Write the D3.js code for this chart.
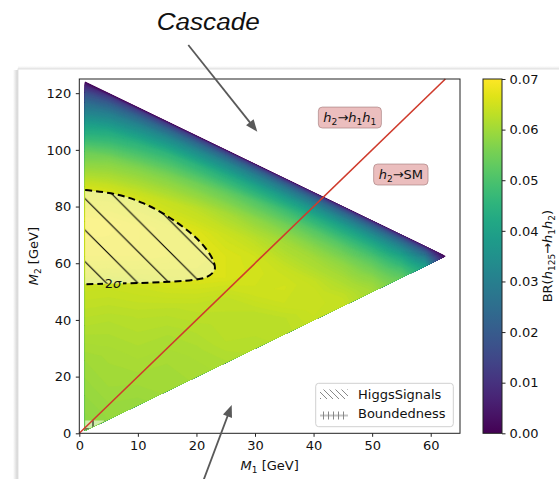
<!DOCTYPE html>
<html><head><meta charset="utf-8">
<script src="https://cdn.jsdelivr.net/npm/d3@7"></script>
<style>
html,body{margin:0;padding:0;background:#fff;}
svg{display:block;font-family:"DejaVu Sans",sans-serif;}
</style></head>
<body>
<svg id="chart" width="559" height="479"></svg>
<script>
// ---------------- data ----------------
// grid columns: M1 [GeV]; rows: fractional position s between lower edge (M2=M1) and kinematic edge (M1+M2=125)
const m1Samples = [1, 5, 10, 15, 20, 25, 30, 35, 40, 45, 50, 55, 59, 62.5];
const sSamples  = [0, 0.1, 0.2, 0.3, 0.4, 0.5, 0.6, 0.7, 0.8, 0.88, 0.94, 0.97, 0.99, 1];
const brRows = [
  [0.058, 0.059, 0.0592, 0.0602, 0.0606, 0.0614, 0.0623, 0.0627, 0.0638, 0.0638, 0.0606, 0.053, 0.0396, 0],
  [0.059, 0.060, 0.0604, 0.0605, 0.0612, 0.0625, 0.0626, 0.0629, 0.0644, 0.0634, 0.0595, 0.0511, 0.0376, 0],
  [0.060, 0.0607, 0.0615, 0.0614, 0.0622, 0.0628, 0.063, 0.0645, 0.0644, 0.062, 0.0577, 0.0492, 0.0355, 0],
  [0.062, 0.062, 0.0626, 0.0628, 0.0634, 0.0633, 0.0648, 0.0651, 0.0637, 0.0604, 0.0555, 0.0465, 0.0333, 0],
  [0.064, 0.064, 0.0646, 0.0655, 0.0659, 0.066, 0.0653, 0.0643, 0.0617, 0.0587, 0.053, 0.0439, 0.031, 0],
  [0.068, 0.068, 0.068, 0.0675, 0.0671, 0.066, 0.065, 0.0623, 0.060, 0.0558, 0.0499, 0.0409, 0.0283, 0],
  [0.069, 0.0688, 0.0681, 0.0671, 0.0663, 0.0646, 0.0626, 0.0601, 0.0565, 0.0521, 0.0459, 0.0369, 0.0254, 0],
  [0.065, 0.0654, 0.065, 0.064, 0.0628, 0.0608, 0.0582, 0.0553, 0.0516, 0.0468, 0.0409, 0.0326, 0.022, 0],
  [0.054, 0.056, 0.0563, 0.056, 0.0549, 0.0533, 0.0509, 0.048, 0.0442, 0.0399, 0.0343, 0.0271, 0.018, 0],
  [0.039, 0.0429, 0.0448, 0.0459, 0.045, 0.0433, 0.0411, 0.0384, 0.0353, 0.0316, 0.0272, 0.0214, 0.0139, 0],
  [0.025, 0.0293, 0.0317, 0.033, 0.0326, 0.032, 0.0303, 0.0283, 0.0257, 0.0229, 0.0196, 0.0152, 0.0099, 0],
  [0.016, 0.020, 0.0222, 0.0232, 0.0234, 0.0229, 0.0219, 0.0202, 0.0184, 0.0163, 0.0139, 0.0108, 0.007, 0],
  [0.007, 0.0117, 0.0129, 0.0133, 0.0137, 0.0134, 0.0128, 0.0118, 0.0108, 0.0095, 0.0081, 0.0063, 0.004, 0],
  [0, 0, 0, 0, 0, 0, 0, 0, 0, 0, 0, 0, 0, 0]
];
const xTicks = [0, 10, 20, 30, 40, 50, 60];
const yTicks = [0, 20, 40, 60, 80, 100, 120];
const cbTicks = [0, 0.01, 0.02, 0.03, 0.04, 0.05, 0.06, 0.07];
// HiggsSignals 2 sigma contour (M1, M2)
const sigma2Contour = [[1,85.8],[6.1,84.4],[10.9,81.2],[16,75.3],[20.6,67.6],[22.8,61.2],[23.1,57.6],[21.7,55.1],[19.4,54.1],[13.8,53.3],[8.1,52.9],[1,52.6]];
const sigma2LabelPos = [5.75, 53.0];
// Boundedness excluded patch (M1, M2)
const boundedRegion = [[1,1],[1,4.5],[4.4,4.5],[4.4,4.4]];
// threshold line M2 = 2 M1
const thresholdLine = [[0,0],[62.5,125]];
const regionLabels = [
  {parts:[["h",1],["2",2],["\u2192",0],["h",1],["1",2],["h",1],["1",2]], m1:46.2, m2:111.4},
  {parts:[["h",1],["2",2],["\u2192SM",0]], m1:54.9, m2:91.3}
];
const legendItems = ["HiggsSignals", "Boundedness"];

// ---------------- layout ----------------
const svg = d3.select("#chart");
const L = 79.3, R = 460, T = 79, B = 433.3;
const x = d3.scaleLinear().domain([0, 65]).range([L, R]);
const y = d3.scaleLinear().domain([0, 125]).range([B, T]);
const cb = d3.scaleLinear().domain([0, 0.07]).range([B, T]);
const color = v => d3.interpolateViridis(Math.max(0, Math.min(1, v / 0.07)));

const defs = svg.append("defs");

// screenshot frame with shadow
const sg = defs.append("linearGradient").attr("id","shL").attr("x1",0).attr("x2",1).attr("y1",0).attr("y2",0);
sg.append("stop").attr("offset",0).attr("stop-color","#fff");
sg.append("stop").attr("offset",1).attr("stop-color","#cfcfcf");
const sgT = defs.append("linearGradient").attr("id","shT").attr("x1",0).attr("x2",0).attr("y1",0).attr("y2",1);
sgT.append("stop").attr("offset",0).attr("stop-color","#fff");
sgT.append("stop").attr("offset",1).attr("stop-color","#e6e6e6");
svg.append("rect").attr("x",13).attr("y",70).attr("width",5).attr("height",420).attr("fill","url(#shL)");
svg.append("rect").attr("x",18).attr("y",66).attr("width",560).attr("height",3).attr("fill","url(#shT)");
svg.append("rect").attr("x",18).attr("y",69).attr("width",560).attr("height",420).attr("fill","#fff").attr("stroke","#e2e2e2").attr("stroke-width",1);

// ---------------- heat map via d3.contours ----------------
const n = m1Samples.length, m = sSamples.length;
const values = [];
for (let j = 0; j < m; j++) for (let i = 0; i < n; i++) values.push(brRows[j][i]);
const step = 0.0005;
const thresholds = d3.range(0, 0.07 + 1e-9, step);
const contours = d3.contours().size([n, m]).thresholds(thresholds)(values);
function interpArr(arr, f) {
  const i0 = Math.max(0, Math.min(arr.length - 2, Math.floor(f)));
  const t = f - i0;
  return arr[i0] + (arr[i0 + 1] - arr[i0]) * t;
}
function project(p) {
  const fi = Math.max(0, Math.min(n - 1, p[0] - 0.5));
  const fj = Math.max(0, Math.min(m - 1, p[1] - 0.5));
  const a = interpArr(m1Samples, fi);
  const s = interpArr(sSamples, fj);
  const b = a + s * (125 - 2 * a);
  return [x(a).toFixed(2), y(b).toFixed(2)];
}
const pathOf = g => g.coordinates.map(poly => poly.map(ring => "M" + ring.map(p => project(p).join(",")).join("L") + "Z").join("")).join("");
svg.append("g").selectAll("path").data(contours).join("path")
  .attr("d", pathOf)
  .attr("fill", d => color(d.value + step / 2))
  .attr("stroke", d => color(d.value + step / 2))
  .attr("stroke-width", 0.3);

// ---------------- HiggsSignals region ----------------
const hp = defs.append("pattern").attr("id","hatchHS").attr("patternUnits","userSpaceOnUse")
  .attr("width",31.5).attr("height",31.5).attr("x",12.4).attr("y",0);
hp.append("path").attr("d","M-2,-2L33.5,33.5M-2,29.5L2,33.5M29.5,-2L33.5,2").attr("stroke","#000").attr("stroke-width",1.1);
const lineCurve = d3.line().x(d => x(d[0])).y(d => y(d[1])).curve(d3.curveCatmullRom.alpha(0.5));
const sigPath = lineCurve(sigma2Contour);
svg.append("path").attr("d", sigPath + "Z").attr("fill","#fff").attr("fill-opacity",0.5);
svg.append("path").attr("d", sigPath + "Z").attr("fill","url(#hatchHS)");

// Boundedness patch
const bp = defs.append("pattern").attr("id","hatchB").attr("patternUnits","userSpaceOnUse")
  .attr("width",12).attr("height",12).attr("x",3).attr("y",3);
bp.append("path").attr("d","M0,6H12M6,0V12").attr("stroke","#000").attr("stroke-width",1);
const bLine = d3.line().x(d => x(d[0])).y(d => y(d[1]));
svg.append("path").attr("d", bLine(boundedRegion) + "Z").attr("fill","#fff").attr("fill-opacity",0.55);
svg.append("path").attr("d", bLine(boundedRegion) + "Z").attr("fill","url(#hatchB)");

// 2 sigma dashed contour with inline label
const mask = defs.append("mask").attr("id","lblMask").attr("maskUnits","userSpaceOnUse")
  .attr("x",0).attr("y",0).attr("width",559).attr("height",479);
mask.append("rect").attr("x",0).attr("y",0).attr("width",559).attr("height",479).attr("fill","#fff");
const lx = x(sigma2LabelPos[0]), ly = y(sigma2LabelPos[1]);
mask.append("rect").attr("x",lx - 10).attr("y",ly - 8).attr("width",20).attr("height",16).attr("fill","#000");
svg.append("path").attr("d", sigPath).attr("fill","none").attr("stroke","#000")
  .attr("stroke-width",2).attr("stroke-dasharray","7,4").attr("mask","url(#lblMask)");
const st = svg.append("text").attr("x",lx).attr("y",ly + 4.5).attr("text-anchor","middle")
  .attr("font-size",13).attr("fill","#111");
st.append("tspan").text("2");
st.append("tspan").attr("font-style","italic").text("\u03C3");

// ---------------- threshold line ----------------
svg.append("path").attr("d", bLine(thresholdLine)).attr("stroke","#cf3b2c").attr("stroke-width",1.6).attr("fill","none");

// ---------------- region labels ----------------
function mathText(g, parts, size) {
  const t = g.append("text").attr("font-size", size).attr("fill","#111").attr("text-anchor","middle");
  let shifted = false;
  parts.forEach(([s, kind]) => {
    const ts = t.append("tspan").text(s);
    if (kind === 1) ts.attr("font-style","italic");
    if (kind === 2) { ts.attr("font-size", size * 0.7).attr("dy", 3); shifted = true; }
    else if (shifted) { ts.attr("dy", -3); shifted = false; }
  });
  return t;
}
regionLabels.forEach(lb => {
  const g = svg.append("g").attr("transform", `translate(${x(lb.m1)},${y(lb.m2)})`);
  const t = mathText(g, lb.parts, 13).attr("y", 4.5);
  const bb = t.node().getBBox();
  g.insert("rect","text").attr("x", bb.x - 5).attr("y", -10.5).attr("width", bb.width + 10).attr("height", 21)
    .attr("rx",4).attr("fill","rgba(205,92,92,0.4)").attr("stroke","rgba(160,120,120,0.6)").attr("stroke-width",1);
});

// ---------------- legend ----------------
const lg = svg.append("g");
lg.append("rect").attr("x",315.7).attr("y",383.3).attr("width",137.6).attr("height",43.4).attr("rx",3)
  .attr("fill","#fff").attr("fill-opacity",0.85).attr("stroke","#d0d0d0");
const lp1 = defs.append("pattern").attr("id","lgHS").attr("patternUnits","userSpaceOnUse").attr("width",6).attr("height",6);
lp1.append("path").attr("d","M-1,-1L7,7M-1,5L1,7M5,-1L7,1").attr("stroke","#888").attr("stroke-width",1);
const lp2 = defs.append("pattern").attr("id","lgB").attr("patternUnits","userSpaceOnUse").attr("width",5).attr("height",8).attr("x",321).attr("y",411.5);
lp2.append("path").attr("d","M0,4H5M2.5,0V8").attr("stroke","#888").attr("stroke-width",1);
lg.append("rect").attr("x",320).attr("y",389.5).attr("width",28).attr("height",9.5).attr("fill","url(#lgHS)");
lg.append("rect").attr("x",320).attr("y",411.5).attr("width",28).attr("height",8).attr("fill","url(#lgB)");
legendItems.forEach((txt, i) => {
  lg.append("text").attr("x",358).attr("y",399 + i * 19.3).attr("font-size",13).attr("fill","#111").text(txt);
});

// ---------------- axes ----------------
svg.append("rect").attr("x",L).attr("y",T).attr("width",R-L).attr("height",B-T).attr("fill","none").attr("stroke","#222").attr("stroke-width",1);
const ax = svg.append("g").attr("transform",`translate(0,${B})`)
  .call(d3.axisBottom(x).tickValues(xTicks).tickSize(3.5).tickPadding(3.5).tickSizeOuter(0));
const ay = svg.append("g").attr("transform",`translate(${L},0)`)
  .call(d3.axisLeft(y).tickValues(yTicks).tickSize(3.5).tickPadding(4.5).tickSizeOuter(0));
[ax, ay].forEach(a => {
  a.select(".domain").remove();
  a.selectAll("text").attr("font-size",13).attr("font-family","DejaVu Sans").attr("fill","#111");
  a.selectAll("line").attr("stroke","#222");
});

// axis labels
const xl = svg.append("text").attr("x",(L+R)/2).attr("y",470).attr("text-anchor","middle").attr("font-size",13).attr("fill","#111");
xl.append("tspan").attr("font-style","italic").text("M");
xl.append("tspan").attr("font-size",9).attr("dy",3).text("1");
xl.append("tspan").attr("dy",-3).text(" [GeV]");
const yl = svg.append("text").attr("transform",`translate(37.5,${(T+B)/2}) rotate(-90)`).attr("text-anchor","middle").attr("font-size",13).attr("fill","#111");
yl.append("tspan").attr("font-style","italic").text("M");
yl.append("tspan").attr("font-size",9).attr("dy",3).text("2");
yl.append("tspan").attr("dy",-3).text(" [GeV]");

// ---------------- colorbar ----------------
const cg = defs.append("linearGradient").attr("id","cbGrad").attr("x1",0).attr("x2",0).attr("y1",1).attr("y2",0);
d3.range(0, 1.0001, 0.05).forEach(t => cg.append("stop").attr("offset",t).attr("stop-color",d3.interpolateViridis(t)));
svg.append("rect").attr("x",483).attr("y",T).attr("width",19).attr("height",B-T).attr("fill","url(#cbGrad)").attr("stroke","#222").attr("stroke-width",1);
const ac = svg.append("g").attr("transform","translate(502,0)")
  .call(d3.axisRight(cb).tickValues(cbTicks).tickFormat(d3.format(".2f")).tickSize(3.5).tickPadding(4).tickSizeOuter(0));
ac.select(".domain").remove();
ac.selectAll("text").attr("font-size",13).attr("font-family","DejaVu Sans").attr("fill","#111");
ac.selectAll("line").attr("stroke","#222");
const cl = svg.append("text").attr("transform",`translate(552,${(T+B)/2}) rotate(-90)`).attr("text-anchor","middle").attr("font-size",13).attr("fill","#111");
cl.append("tspan").text("BR(");
cl.append("tspan").attr("font-style","italic").text("h");
cl.append("tspan").attr("font-size",9).attr("dy",3).text("125");
cl.append("tspan").attr("dy",-3).text("\u2192");
cl.append("tspan").attr("font-style","italic").text("h");
cl.append("tspan").attr("font-size",9).attr("dy",3).text("1");
cl.append("tspan").attr("dy",-3).attr("font-style","italic").text("h");
cl.append("tspan").attr("font-size",9).attr("dy",3).text("2");
cl.append("tspan").attr("dy",-3).text(")");

// ---------------- annotation ----------------
svg.append("text").attr("x",156.7).attr("y",29.5).attr("font-family","'Liberation Sans',Arial,sans-serif")
  .attr("font-style","italic").attr("font-size",23).attr("textLength",103).attr("lengthAdjust","spacingAndGlyphs")
  .attr("fill","#111").text("Cascade");
function arrow(x0, y0, x1, y1) {
  const dx = x1 - x0, dy = y1 - y0, len = Math.hypot(dx, dy);
  const ux = dx / len, uy = dy / len, hl = 12, hw = 4.8;
  const bx = x1 - ux * hl, by = y1 - uy * hl;
  svg.append("line").attr("x1",x0).attr("y1",y0).attr("x2",bx + ux*2).attr("y2",by + uy*2).attr("stroke","#595959").attr("stroke-width",1.8);
  svg.append("path").attr("d",`M${x1},${y1}L${bx - uy*hw},${by + ux*hw}L${bx + uy*hw},${by - ux*hw}Z`).attr("fill","#595959");
}
arrow(188.3, 45, 257.3, 131.7);
arrow(199.5, 491, 231.7, 405);
</script>
</body></html>
